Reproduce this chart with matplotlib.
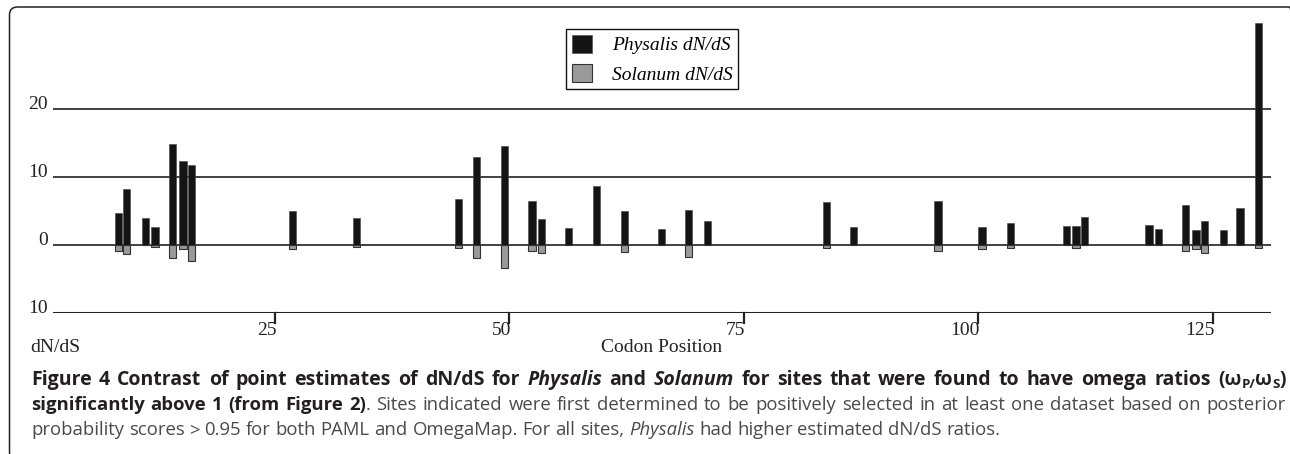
import matplotlib
matplotlib.use("Agg")
import matplotlib.pyplot as plt
from matplotlib.patches import FancyBboxPatch
from matplotlib.transforms import IdentityTransform

# codon positions of the selected sites and dN/dS point estimates
codon = [8.3, 9.2, 11.2, 12.2, 14.1, 15.2, 16.1, 26.9, 33.7,
         44.6, 46.5, 49.5, 52.4, 53.4, 56.3, 59.3, 62.3, 66.2, 69.1, 71.1,
         83.8, 86.7, 95.7, 100.4, 103.4, 109.4, 110.4, 111.3, 118.2, 119.2,
         122.1, 123.2, 124.1, 126.1, 127.9, 129.9]
physalis = [4.75, 8.3, 3.9, 2.65, 14.8, 12.4, 11.7, 5.05, 3.9,
            6.7, 13.0, 14.5, 6.5, 3.8, 2.5, 8.7, 4.95, 2.3, 5.1, 3.6,
            6.3, 2.65, 6.4, 2.65, 3.3, 2.8, 2.8, 4.1, 3.0, 2.3,
            5.9, 2.15, 3.5, 2.15, 5.4, 32.6]
solanum = [0.85, 1.3, 0, 0.35, 1.95, 0.65, 2.3, 0.65, 0.35,
           0.4, 1.95, 3.4, 0.85, 1.2, 0, 0, 1.0, 0, 1.7, 0,
           0.4, 0, 0.85, 0.55, 0.4, 0, 0.4, 0, 0, 0,
           0.85, 0.55, 1.2, 0, 0, 0.4]

y_levels = [20, 10, 0, -10]
y_labels = ["20", "10", "0", "10"]
x_ticks = [25, 50, 75, 100, 125]

W, H = 1290, 454
SERIF = "Liberation Serif"
SANS = "Open Sans"

fig = plt.figure(figsize=(W / 100, H / 100), dpi=100)
ax = fig.add_axes([53 / W, 1 - 313 / H, 1218 / W, 299.2 / H])
ax.set_xlim(1.33, 131.2)
ax.set_ylim(-10, 34)
ax.axis("off")

# grid lines + bottom axis
for lv in y_levels[:-1]:
    ax.axhline(lv, color="#333333", lw=1.3, zorder=1)
ax.axhline(-10, color="#222222", lw=2.2, zorder=1)
for lv, lab in zip(y_levels, y_labels):
    ax.annotate(lab, (0, lv), xycoords=("axes fraction", "data"),
                xytext=(-5, 0), textcoords="offset pixels",
                ha="right", va="baseline", fontsize=14, family=SERIF,
                color="#222222")

for xt in x_ticks:
    ax.plot([xt, xt], [-10, -11.5], color="#222222", lw=1.6, clip_on=False)
    ax.text(xt + 0.15, -11.3, str(xt), ha="right", va="top", fontsize=14,
            family=SERIF, color="#222222")

b1 = ax.bar(codon, physalis, width=0.78, color="#141414", edgecolor="#444444",
            lw=0.4, zorder=3, label="Physalis dN/dS")
b2 = ax.bar(codon, [-v for v in solanum], width=0.78, color="#9a9a9a",
            edgecolor="#333333", lw=0.8, zorder=3, label="Solanum dN/dS")

leg = ax.legend(handles=[b1, b2], loc="upper left",
                bbox_to_anchor=(566 / W, 1 - 28.7 / H),
                bbox_transform=fig.transFigure, borderaxespad=0,
                fancybox=False, framealpha=1, edgecolor="#111111",
                prop={"family": SERIF, "style": "italic", "size": 14},
                handlelength=1.05, handleheight=1.05, handletextpad=1.0,
                labelspacing=0.5, borderpad=0.3)
leg.get_frame().set_linewidth(1.0)

fig.text(30 / W, 1 - 347 / H, "dN/dS", ha="left", va="center", fontsize=14,
         family=SERIF, color="#222222")
fig.text(662 / W, 1 - 347 / H, "Codon Position", ha="center", va="center",
         fontsize=14, family=SERIF, color="#222222")

# outer rounded frame
frame = FancyBboxPatch((0.095, -0.06), 12.88, 4.53,
                       boxstyle="round,pad=0,rounding_size=0.08",
                       transform=fig.dpi_scale_trans, fill=False,
                       ec="#222222", lw=1.1)
fig.patches.append(frame)

# caption, drawn word by word so lines can be justified
renderer = fig.canvas.get_renderer()
DARK, GREY = "#231f20", "#4a4a4a"
CAP = 13.3
CAP1 = 14
SUB = 9.5


def text_width(s, **kw):
    t = fig.text(0, 0, s + ".", transform=IdentityTransform(), **kw)
    d = fig.text(0, 0, ".", transform=IdentityTransform(), **kw)
    w = t.get_window_extent(renderer).width - d.get_window_extent(renderer).width
    t.remove()
    d.remove()
    return w


def space_width(**kw):
    return text_width("a a", **kw) - text_width("aa", **kw)


def draw_line(x, y, runs, right=None):
    items = []
    for s, weight, style, color, size, dy in runs:
        kw = dict(family=SANS, fontweight=weight, fontstyle=style,
                  fontsize=size, color=color)
        parts = s.split(" ")
        for i, p in enumerate(parts):
            if i > 0:
                items.append((None, kw, 0, space_width(**kw)))
            if p:
                items.append((p, kw, dy, text_width(p, **kw)))
    n_sp = sum(1 for it in items if it[0] is None)
    extra = 0
    if right is not None and n_sp:
        extra = max(0, (right - x - sum(it[3] for it in items)) / n_sp)
    for s, kw, dy, w in items:
        if s is None:
            x += w + extra
            continue
        fig.text(x, H - y + dy, s, transform=IdentityTransform(),
                 ha="left", va="baseline", **kw)
        x += w


B, N = "bold", "normal"
draw_line(31, 385, [
    ("Figure 4 Contrast of point estimates of dN/dS for ", B, N, DARK, CAP1, 0),
    ("Physalis", B, "italic", DARK, CAP1, 0),
    (" and ", B, N, DARK, CAP1, 0),
    ("Solanum", B, "italic", DARK, CAP1, 0),
    (" for sites that were found to have omega ratios (\u03c9", B, N, DARK, CAP1, 0),
    ("P/", B, N, DARK, SUB, -3),
    ("\u03c9", B, N, DARK, CAP1, 0),
    ("S", B, N, DARK, SUB, -3),
    (")", B, N, DARK, CAP1, 0),
], right=1286)
draw_line(31, 410, [
    ("significantly above 1 (from Figure 2)", B, N, DARK, CAP, 0),
    (". Sites indicated were first determined to be positively selected in at "
     "least one dataset based on posterior", N, N, GREY, CAP, 0),
], right=1286)
draw_line(31, 435, [
    ("probability scores > 0.95 for both PAML and OmegaMap. For all sites, ",
     N, N, GREY, CAP, 0),
    ("Physalis", N, "italic", GREY, CAP, 0),
    (" had higher estimated dN/dS ratios.", N, N, GREY, CAP, 0),
])

fig.savefig("out.png", dpi=100)
